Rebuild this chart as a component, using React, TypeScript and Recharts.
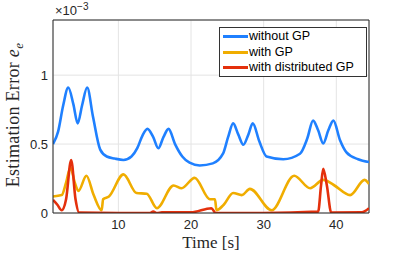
import React from "react";
import {
  LineChart,
  Line,
  XAxis,
  YAxis,
  CartesianGrid,
  ReferenceLine,
} from "recharts";

// time samples [s] and estimation error (x 1e-3)
const tWithout = [1, 1.7, 2.4, 3.1, 3.8, 4.4, 5.0, 5.7, 6.5, 7.5, 8.4, 9.5, 10.7, 11.8, 12.6, 13.3, 14, 14.8, 15.5, 16.2, 16.9, 17.8, 18.8, 19.8, 21.2, 23, 24.4, 25.1, 25.8, 26.5, 27.2, 27.9, 28.5, 29.4, 30.4, 32.7, 35, 36, 36.8, 37.5, 38.2, 38.9, 39.6, 40.5, 41.4, 43, 44.5];
const withoutGP = [0.5, 0.59, 0.78, 0.91, 0.79, 0.65, 0.78, 0.91, 0.7, 0.46, 0.41, 0.395, 0.385, 0.41, 0.47, 0.56, 0.61, 0.55, 0.47, 0.55, 0.61, 0.5, 0.41, 0.365, 0.345, 0.36, 0.43, 0.55, 0.65, 0.57, 0.495, 0.57, 0.65, 0.52, 0.41, 0.39, 0.43, 0.54, 0.67, 0.6, 0.505, 0.6, 0.67, 0.53, 0.44, 0.39, 0.37];

const tWith = [1, 2.2, 2.8, 3.4, 4.0, 4.5, 5.6, 6.6, 7.7, 7.9, 8.7, 10.7, 12.5, 13.9, 15.3, 17.6, 18.7, 20.5, 22.6, 23.3, 23.5, 24.5, 25.8, 27, 28.1, 31.1, 34.2, 36.4, 38.2, 39.6, 41.9, 43.9, 44.5];
const withGP = [0.12, 0.13, 0.22, 0.33, 0.22, 0.16, 0.27, 0.13, 0.02, 0.1, 0.12, 0.28, 0.145, 0.14, 0.035, 0.2, 0.18, 0.255, 0.1, 0.1, 0.02, 0.06, 0.145, 0.13, 0.175, 0.02, 0.27, 0.18, 0.24, 0.205, 0.13, 0.24, 0.21];

const tDist = [1, 1.6, 2.2, 2.8, 3.5, 4.1, 4.6, 10, 14.3, 14.8, 15.3, 16, 20, 22.8, 23.4, 30, 37.5, 37.9, 38.2, 38.7, 39.3, 43.5, 44.5];
const distributedGP = [0.095, 0.06, 0.02, 0.1, 0.385, 0.1, 0.003, 0, 0, 0.01, 0, 0.005, 0.005, 0.035, 0, 0, 0.01, 0.2, 0.32, 0.2, 0.003, 0.005, 0.035];

const xTicks = [10, 20, 30, 40];
const yTicks = [0, 0.5, 1];

const zip = (ts: number[], vs: number[]) => ts.map((t, i) => ({ t, v: vs[i] }));

const series = [
  { name: "without GP", color: "#1f80ff", data: zip(tWithout, withoutGP) },
  { name: "with GP", color: "#f0ad00", data: zip(tWith, withGP) },
  { name: "with distributed GP", color: "#e4300c", data: zip(tDist, distributedGP) },
];

const axisColor = "#262626";
const serif = "'Liberation Serif', 'DejaVu Serif', serif";
const sans = "'Liberation Sans', Arial, sans-serif";

export default function App() {
  return (
    <div style={{ position: "absolute", left: 0, top: 0, width: 409, height: 256, background: "#fff" }}>
      <LineChart width={409} height={256} margin={{ top: 20, right: 40, left: 13, bottom: 23 }}>
        <CartesianGrid stroke="#e4e4e4" />
        <XAxis
          type="number"
          dataKey="t"
          domain={[1, 44.5]}
          ticks={xTicks}
          allowDataOverflow
          height={20}
          stroke={axisColor}
          tickLine={false}
          tickSize={0}
          tickMargin={7}
          tick={{ fill: axisColor, fontSize: 13, fontFamily: sans }}
        />
        <YAxis
          type="number"
          domain={[0, 1.4]}
          ticks={yTicks}
          allowDataOverflow
          width={40}
          stroke={axisColor}
          tickLine={false}
          tickSize={0}
          tickMargin={5}
          tick={{ fill: axisColor, fontSize: 13, fontFamily: sans }}
        />
        <ReferenceLine y={1.4} stroke={axisColor} />
        <ReferenceLine x={44.5} stroke={axisColor} />
        {series.map((s) => (
          <Line
            key={s.name}
            data={s.data}
            dataKey="v"
            name={s.name}
            type="monotone"
            stroke={s.color}
            strokeWidth={2.6}
            dot={false}
            isAnimationActive={false}
          />
        ))}
      </LineChart>
      <div
        style={{
          position: "absolute",
          left: 219,
          top: 27,
          width: 143,
          height: 47,
          border: "1px solid #333",
          background: "#fff",
          padding: "1px 0 0 3px",
          boxSizing: "content-box",
          fontFamily: sans,
          fontSize: 12.5,
          color: "#000",
          lineHeight: "15.5px",
        }}
      >
        {series.map((s) => (
          <div key={s.name} style={{ display: "flex", alignItems: "center", whiteSpace: "nowrap" }}>
            <span style={{ display: "inline-block", width: 25, height: 3, background: s.color, marginRight: 1 }} />
            {s.name}
          </div>
        ))}
      </div>
      <div style={{ position: "absolute", left: 55, top: 1, fontFamily: sans, fontSize: 13, color: axisColor }}>
        ×10<sup style={{ fontSize: 10 }}>−3</sup>
      </div>
      <div
        style={{
          position: "absolute",
          left: 15,
          top: 115,
          transform: "translate(-50%, -50%) rotate(-90deg)",
          whiteSpace: "nowrap",
          fontFamily: serif,
          fontSize: 18,
          letterSpacing: 0.3,
          color: axisColor,
        }}
      >
        Estimation Error <i>e</i>
        <sub style={{ fontSize: 13 }}><i>e</i></sub>
      </div>
      <div
        style={{
          position: "absolute",
          left: 211,
          top: 243,
          transform: "translate(-50%, -50%)",
          whiteSpace: "nowrap",
          fontFamily: serif,
          fontSize: 17,
          color: axisColor,
        }}
      >
        Time [s]
      </div>
    </div>
  );
}
